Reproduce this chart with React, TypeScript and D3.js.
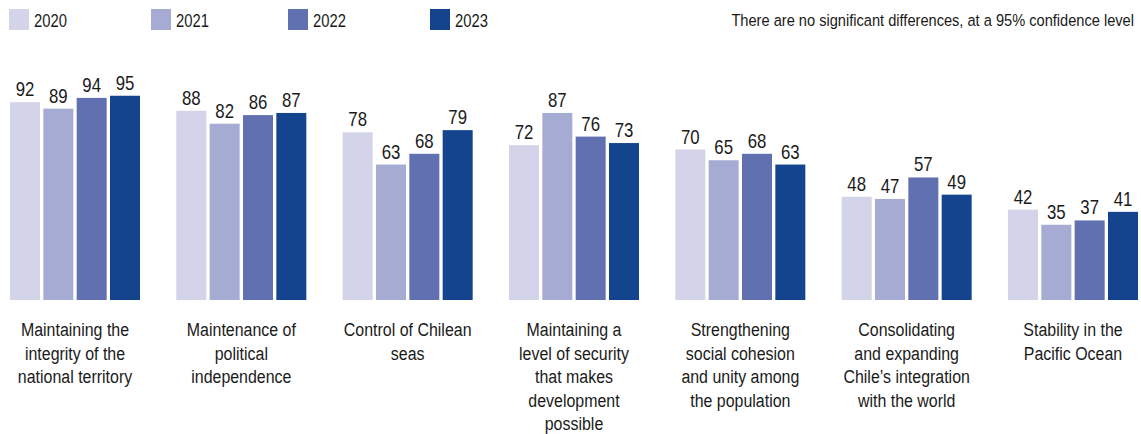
import React from "react";
import * as d3 from "d3";

const categories: string[][] = [
  ["Maintaining the", "integrity of the", "national territory"],
  ["Maintenance of", "political", "independence"],
  ["Control of Chilean", "seas"],
  ["Maintaining a", "level of security", "that makes", "development", "possible"],
  ["Strengthening", "social cohesion", "and unity among", "the population"],
  ["Consolidating", "and expanding", "Chile’s integration", "with the world"],
  ["Stability in the", "Pacific Ocean"],
];
const years = ["2020", "2021", "2022", "2023"];
const v2020 = [92, 88, 78, 72, 70, 48, 42];
const v2021 = [89, 82, 63, 87, 65, 47, 35];
const v2022 = [94, 86, 68, 76, 68, 57, 37];
const v2023 = [95, 87, 79, 73, 63, 49, 41];
const series = [v2020, v2021, v2022, v2023];
const colors = ["#d3d3ea", "#a6abd3", "#6170b0", "#15448f"];
const legendX = [9, 151, 288, 430];
const note = "There are no significant differences, at a 95% confidence level";

const W = 1141;
const H = 434;
const FONT = "'Liberation Sans', Arial, sans-serif";

function NText(props: { x: number; y: number; sx: number; size: number; anchor?: string; children: React.ReactNode }) {
  const { x, y, sx, size, anchor, children } = props;
  return (
    <text
      transform={`translate(${x},${y}) scale(${sx},1)`}
      fontSize={size}
      textAnchor={anchor || "start"}
      fill="#1a1a1a"
    >
      {children}
    </text>
  );
}

export default function App() {
  const idx = categories.map((_, i) => String(i));
  const x0 = d3.scaleBand<string>().domain(idx).range([10, 1138]).paddingInner(0.2184).paddingOuter(0);
  const x1 = d3.scaleBand<string>().domain(years).range([0, x0.bandwidth()]).paddingInner(0.1).paddingOuter(0);
  const y = d3.scaleLinear().domain([0, 100]).range([300, 85]);

  return (
    <svg width={W} height={H} style={{ position: "absolute", left: 0, top: 0, fontFamily: FONT }}>
      <rect width={W} height={H} fill="#fff" />
      {years.map((yr, k) => (
        <g key={yr}>
          <rect x={legendX[k]} y={9} width={20} height={21} fill={colors[k]} />
          <NText x={legendX[k] + 25} y={27} sx={0.8} size={18.5}>{yr}</NText>
        </g>
      ))}
      <NText x={1134} y={26} sx={0.86} size={17} anchor="end">{note}</NText>
      {categories.map((lines, i) => {
        const gx = x0(String(i)) as number;
        const cx = gx + x0.bandwidth() / 2;
        return (
          <g key={i}>
            {years.map((yr, k) => {
              const v = series[k][i];
              const bx = gx + (x1(yr) as number);
              return (
                <g key={yr}>
                  <rect x={bx} y={y(v)} width={x1.bandwidth()} height={y(0) - y(v)} fill={colors[k]} />
                  <NText x={bx + x1.bandwidth() / 2} y={y(v) - 6} sx={0.84} size={20} anchor="middle">{v}</NText>
                </g>
              );
            })}
            {lines.map((l, j) => (
              <NText key={j} x={cx} y={336 + j * 23.5} sx={0.84} size={19} anchor="middle">{l}</NText>
            ))}
          </g>
        );
      })}
    </svg>
  );
}
